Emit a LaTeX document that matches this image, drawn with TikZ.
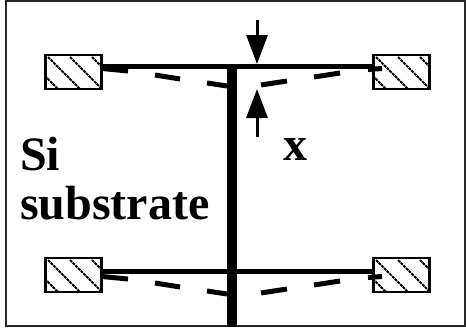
\documentclass[tikz,border=0pt]{standalone}
\usepackage{fontspec}
\setmainfont{Liberation Serif}
\usetikzlibrary{arrows.meta,calc}
\tikzset{
  padbox/.style={draw,line width=2.2pt,minimum width=56pt,minimum height=34pt,inner sep=0pt,fill=white,
    path picture={
      \foreach \s in {-19.5,2.5,24.5,46.5} {
        \draw[line width=2pt,dash pattern=on 3pt off .8pt] ($(path picture bounding box.north west)+(\s pt,-2pt)$)--++(40pt,-40pt);
      }
    }},
  beam/.style={line width=5.2pt},
  bentbeam/.style={line width=5pt},
  gaparrow/.style={line width=3pt,-{Triangle[length=29pt,width=21pt]}},
  lab/.style={font=\bfseries\fontsize{48}{48}\selectfont,anchor=base west,inner sep=0pt}
}
\begin{document}
\begin{tikzpicture}[x=1pt,y=-1pt]
    \useasboundingbox (0,0) rectangle (466,327);
    \draw[line width=2.4pt,black!85] (6,1.2) rectangle (464.8,325.8);
    % anchor pads
    \node[padbox] (padTL) at (73.5,72) {};
    \node[padbox] (padTR) at (401.5,72) {};
    \node[padbox] (padBL) at (73.5,275) {};
    \node[padbox] (padBR) at (401.5,275) {};
    % bent beam, drawn as broken pieces
    \foreach \dy in {0,208} {
      \foreach \xa/\ya/\xb/\yb in {102/68.5/128/71,155/75/180/79,207/83/227/86,261/85/287/81,314/77/340/73,368/69.5/382/68.5} {
        \draw[bentbeam] (\xa,\ya+\dy)--(\xb,\yb+\dy);
      }
    }
    % post and flat beams
    \coordinate (postTop) at (232,64);
    \coordinate (postEnd) at (232,327);
    \draw[line width=10pt] (postTop)--(postEnd);
    \draw[beam] (padTL.east|-0,66.7)--(padTR.west|-0,66.7);
    \draw[beam] (padBL.east|-0,271.7)--(padBR.west|-0,271.7);
    % gap arrows
    \coordinate (gapA) at (257,20);
    \coordinate (gapB) at (257,64);
    \coordinate (gapC) at (257,137);
    \coordinate (gapD) at (257,89);
    \draw[gaparrow] (gapA)--(gapB);
    \draw[gaparrow] (gapC)--(gapD);
    % labels
    \node[lab] (labX) at (283,160) {x};
    \node[lab] (labSi) at (20,170) {Si};
    \node[lab] (labSub) at (20,219) {substrate};
  \end{tikzpicture}
\end{document}
